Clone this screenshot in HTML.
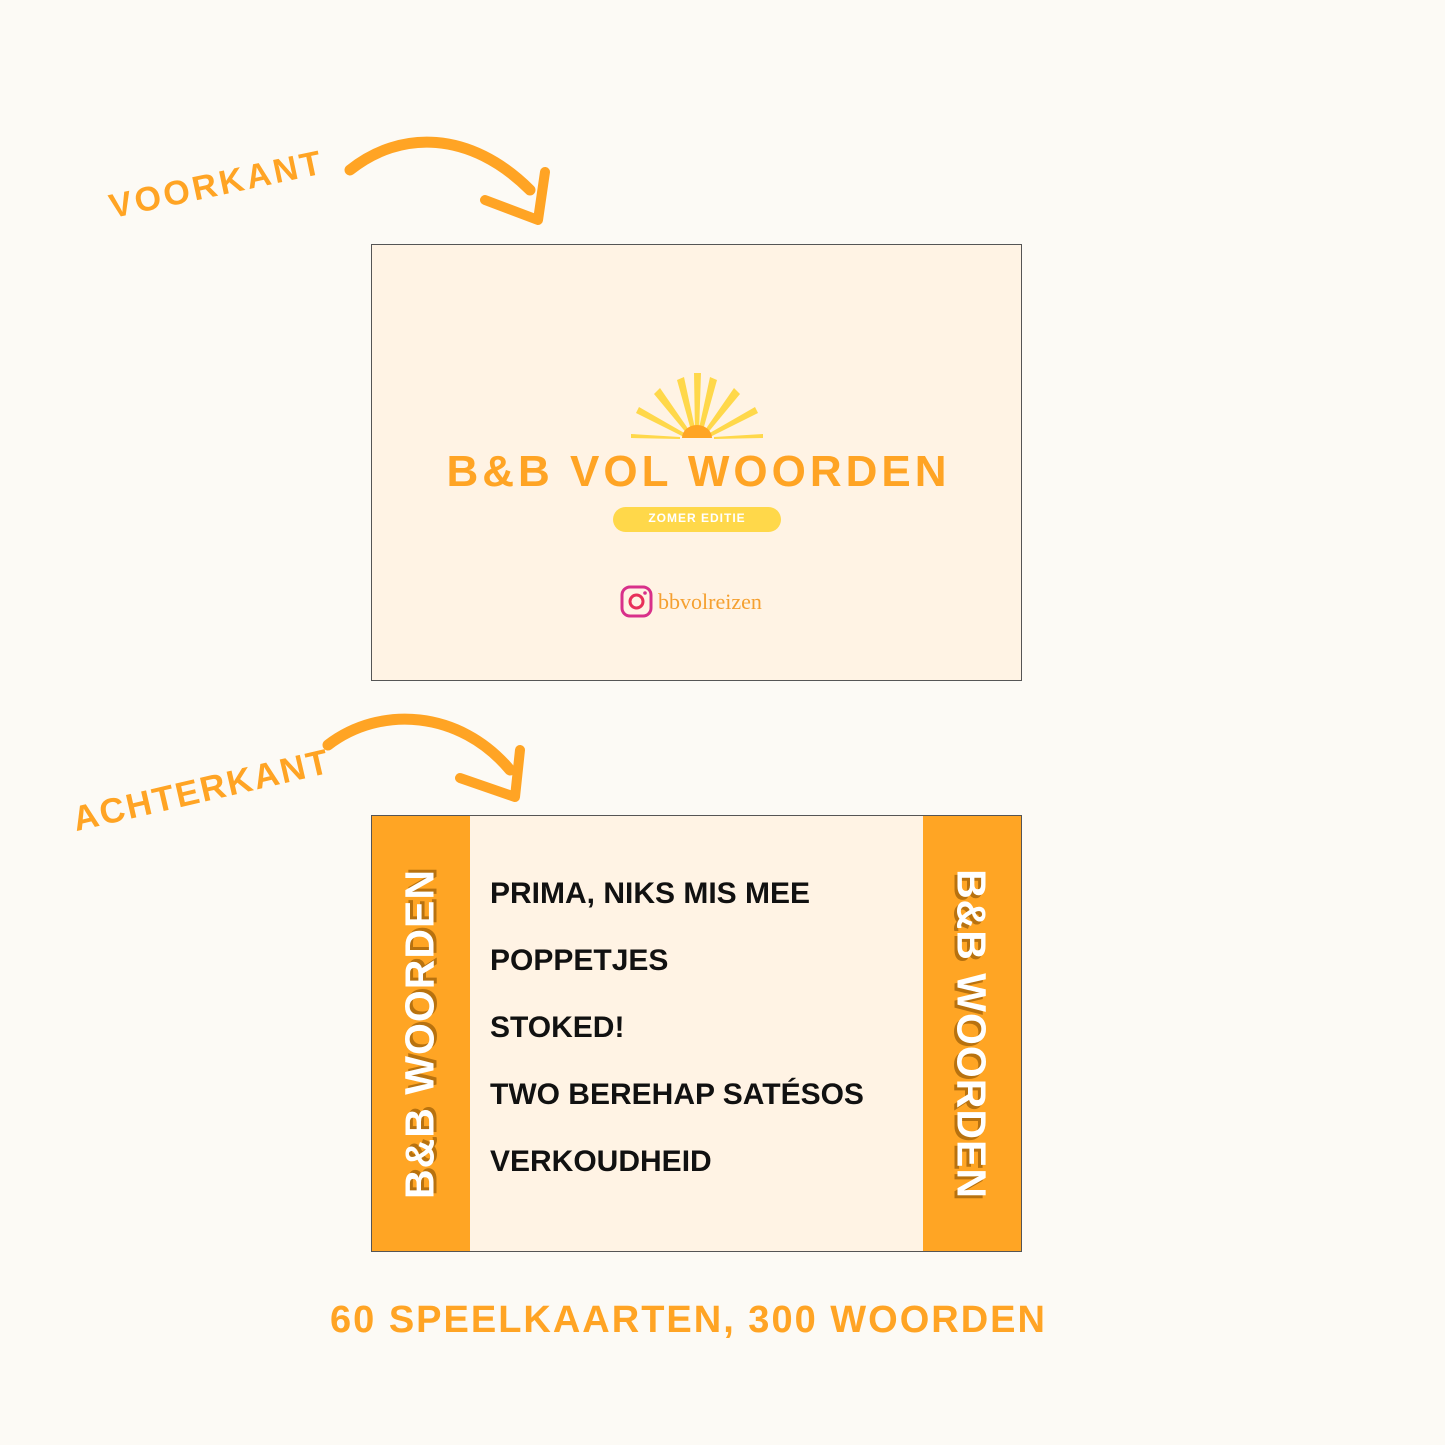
<!DOCTYPE html>
<html><head><meta charset="utf-8"><style>
body{margin:0;width:1445px;height:1445px;background:#fcfaf5;position:relative;overflow:hidden;font-family:"Liberation Sans",sans-serif}
.hand{position:absolute;color:#ffa424;font-weight:bold;white-space:nowrap;transform-origin:left bottom}
.card{position:absolute;left:371px;width:649px;background:#fff3e4;border:1px solid #555}
.band{position:absolute;top:0;bottom:0;width:98px;background:#ffa524}
.vt{position:absolute;color:#fff;font-weight:bold;font-size:41px;white-space:nowrap;text-shadow:3px 3px 0 #b8720f;letter-spacing:1px}
.w{position:absolute;left:118px;font-weight:bold;font-size:30px;color:#111;white-space:nowrap}
</style></head><body>
<div class="hand" style="left:114px;top:188px;font-size:34px;letter-spacing:3px;transform:rotate(-12deg)">VOORKANT</div>
<div class="hand" style="left:78px;top:800px;font-size:35px;letter-spacing:2px;transform:rotate(-13deg)">ACHTERKANT</div>
<svg style="position:absolute;left:0;top:0" width="1445" height="1445">
<path d="M350 170 C400 130 470 130 530 190" stroke="#ffa424" stroke-width="11" fill="none" stroke-linecap="round"/>
<path d="M545 172 L538 220 L485 200" stroke="#ffa424" stroke-width="10" fill="none" stroke-linejoin="round" stroke-linecap="round"/>
<path d="M328 745 C380 705 460 710 510 770" stroke="#ffa424" stroke-width="11" fill="none" stroke-linecap="round"/>
<path d="M520 750 L515 797 L460 778" stroke="#ffa424" stroke-width="10" fill="none" stroke-linejoin="round" stroke-linecap="round"/>
</svg>
<div class="card" style="top:244px;height:435px">
<svg style="position:absolute;left:0;top:0" width="649" height="435">
<g fill="#ffd84a">
<polygon points="322,128 329,128 327,188 323,188"/>
<polygon points="338,132 345,135 330,189 326,188"/>
<polygon points="312,132 305,135 320,189 324,188"/>
<polygon points="362,143 368,149 334,190 331,188"/>
<polygon points="288,143 282,149 316,190 319,188"/>
<polygon points="383,162 386,168 338,192 336,189"/>
<polygon points="267,162 264,168 312,192 314,189"/>
<polygon points="391,189 391,193 342,194 342,192"/>
<polygon points="259,189 259,193 308,194 308,192"/>
</g>
<path d="M310 193 A15 13 0 0 1 340 193 Z" fill="#ffa524"/>
<rect x="241" y="262" width="168" height="25" rx="12.5" fill="#ffd84a"/>
<rect x="250" y="342" width="29" height="29" rx="8" fill="none" stroke="#d8308a" stroke-width="3"/>
<circle cx="264.5" cy="356.5" r="6.5" fill="none" stroke="#e8305a" stroke-width="3"/>
<circle cx="273" cy="348" r="1.8" fill="#d8308a"/>
</svg>
<div style="position:absolute;left:0;width:649px;text-align:center;top:202px;font-size:44px;font-weight:bold;color:#ffa424;letter-spacing:4px;white-space:nowrap;padding-left:2px">B&amp;B VOL WOORDEN</div>
<div style="position:absolute;left:241px;top:266px;width:168px;text-align:center;font-size:12px;font-weight:bold;color:#fff;letter-spacing:1px">ZOMER EDITIE</div>
<div style="position:absolute;left:286px;top:344px;font-family:'Liberation Serif',serif;font-size:22px;color:#f5a030">bbvolreizen</div>
</div>
<div class="card" style="top:815px;height:435px">
<div class="band" style="left:0"></div>
<div class="band" style="right:0"></div>
<div class="vt" style="left:48px;top:218px;transform:translate(-50%,-50%) rotate(-90deg)">B&amp;B WOORDEN</div>
<div class="vt" style="left:599px;top:218px;transform:translate(-50%,-50%) rotate(90deg)">B&amp;B WOORDEN</div>
<div class="w" style="top:61px">PRIMA, NIKS MIS MEE</div>
<div class="w" style="top:128px">POPPETJES</div>
<div class="w" style="top:195px">STOKED!</div>
<div class="w" style="top:262px">TWO BEREHAP SATÉSOS</div>
<div class="w" style="top:329px">VERKOUDHEID</div>
</div>
<div class="hand" style="left:330px;top:1299px;font-size:38px;letter-spacing:2px">60 SPEELKAARTEN, 300 WOORDEN</div>
</body></html>
